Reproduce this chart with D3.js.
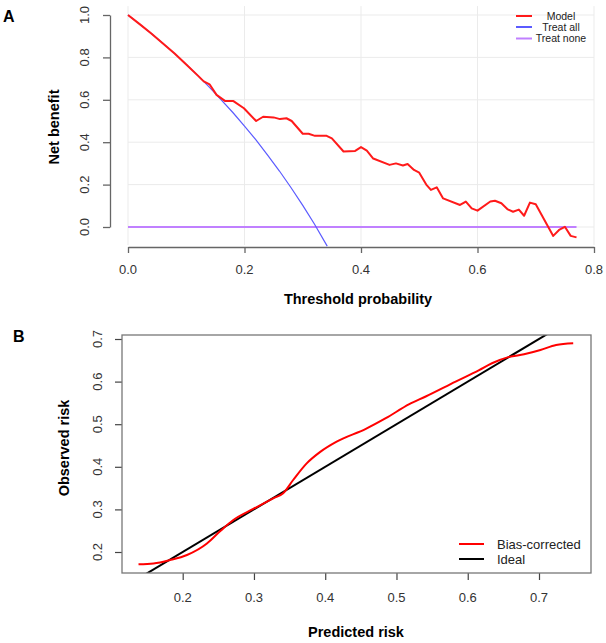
<!DOCTYPE html>
<html lang="en">
<head>
<meta charset="utf-8">
<title>DCA and calibration</title>
<script src="https://d3js.org/d3.v7.min.js"></script>
<style>
  body { margin: 0; background: #fff; }
  text { font-family: "Liberation Sans", Arial, sans-serif; }
</style>
</head>
<body>
<div id="chart"></div>
<script>
// ---- panel A data: decision curve ----
var thrModel = [0, 0.02, 0.04, 0.06, 0.08, 0.10, 0.12, 0.13, 0.14, 0.152, 0.167, 0.181, 0.199, 0.22, 0.232, 0.25,
  0.261, 0.272, 0.281, 0.30, 0.31, 0.321, 0.341, 0.35, 0.37, 0.39, 0.40, 0.41, 0.421, 0.449, 0.46, 0.472,
  0.48, 0.491, 0.50, 0.512, 0.52, 0.53, 0.541, 0.57, 0.58, 0.59, 0.60, 0.622, 0.63, 0.641, 0.652, 0.661,
  0.671, 0.68, 0.69, 0.70, 0.73, 0.74, 0.75, 0.76, 0.77];
var nbModel = [1.0, 0.957, 0.913, 0.866, 0.818, 0.767, 0.714, 0.687, 0.673, 0.623, 0.594, 0.594, 0.56, 0.50, 0.52, 0.517,
  0.509, 0.513, 0.50, 0.44, 0.44, 0.43, 0.43, 0.418, 0.356, 0.359, 0.377, 0.36, 0.323, 0.293, 0.30, 0.29,
  0.297, 0.269, 0.256, 0.20, 0.175, 0.187, 0.135, 0.104, 0.12, 0.088, 0.077, 0.12, 0.124, 0.112, 0.083, 0.072,
  0.082, 0.053, 0.115, 0.107, -0.042, -0.014, 0.001, -0.042, -0.049];
var thrAll = [0, 0.02, 0.04, 0.06, 0.08, 0.10, 0.12, 0.14, 0.16, 0.18, 0.20, 0.22, 0.24, 0.26, 0.28, 0.30, 0.32, 0.342];
var nbAll = [1.0, 0.957, 0.913, 0.866, 0.818, 0.767, 0.714, 0.659, 0.60, 0.54, 0.476, 0.41, 0.338, 0.264, 0.185, 0.102, 0.014, -0.09];
var thrNone = [0, 0.77];
var nbNone = [0, 0];
var xTicksA = [0, 0.2, 0.4, 0.6, 0.8];
var yTicksA = [0, 0.2, 0.4, 0.6, 0.8, 1.0];
var legendA = ["Model", "Treat all", "Treat none"];
var colorsA = ["#ff1a1a", "#5b5bff", "#c080ff"];

// ---- panel B data: calibration ----
var predicted = [0.138, 0.159, 0.182, 0.206, 0.234, 0.252, 0.271, 0.299, 0.327, 0.341, 0.355, 0.374, 0.393, 0.416,
  0.457, 0.485, 0.518, 0.541, 0.583, 0.616, 0.634, 0.658, 0.679, 0.702, 0.724, 0.748];
var observed = [0.171, 0.173, 0.181, 0.193, 0.220, 0.248, 0.275, 0.301, 0.326, 0.338, 0.369, 0.408, 0.435, 0.459,
  0.489, 0.514, 0.547, 0.565, 0.60, 0.627, 0.643, 0.658, 0.664, 0.674, 0.686, 0.690];
var ideal = [0.1, 0.8];
var xTicksB = [0.2, 0.3, 0.4, 0.5, 0.6, 0.7];
var yTicksB = [0.2, 0.3, 0.4, 0.5, 0.6, 0.7];
var legendB = ["Bias-corrected", "Ideal"];
var colorsB = ["#ff0000", "#000000"];

var w = 606, h = 643;
var svg = d3.select("#chart").append("svg")
  .attr("width", w).attr("height", h);
svg.append("rect").attr("width", w).attr("height", h).attr("fill", "#fff");

function fmt(d) { return d3.format(".1f")(d); }

// ================= panel A =================
var xA = d3.scaleLinear().domain([0, 0.8]).range([128, 594]);
var yA = d3.scaleLinear().domain([0, 1]).range([227, 15]);
var gA = svg.append("g");

// grid
gA.selectAll("line.vg").data(xTicksA).enter().append("line")
  .attr("x1", xA).attr("x2", xA).attr("y1", yA(1.042)).attr("y2", yA(-0.085))
  .attr("stroke", "#ebebeb").attr("stroke-width", 1);
gA.selectAll("line.hg").data(yTicksA).enter().append("line")
  .attr("x1", xA(0)).attr("x2", xA(0.8)).attr("y1", yA).attr("y2", yA)
  .attr("stroke", "#ebebeb").attr("stroke-width", 1);

// axes
var axXA = gA.append("g").attr("transform", "translate(0,247)")
  .call(d3.axisBottom(xA).tickValues(xTicksA).tickSize(6).tickSizeOuter(0).tickFormat(""));
var axYA = gA.append("g").attr("transform", "translate(110,0)")
  .call(d3.axisLeft(yA).tickValues(yTicksA).tickSize(7).tickSizeOuter(0).tickFormat(""));
[axXA, axYA].forEach(function (a) {
  a.selectAll("path,line").attr("stroke", "#666").attr("stroke-width", 1.3);
});
gA.selectAll("text.xl").data(xTicksA).enter().append("text")
  .attr("x", xA).attr("y", 274).attr("text-anchor", "middle")
  .attr("font-size", 13).attr("fill", "#333").text(fmt);
gA.selectAll("text.yl").data(yTicksA).enter().append("text")
  .attr("transform", function (d) { return "translate(89," + yA(d) + ") rotate(-90)"; })
  .attr("text-anchor", "middle").attr("font-size", 13).attr("fill", "#333").text(fmt);

// lines
var lineA = d3.line().x(function (d) { return xA(d[0]); }).y(function (d) { return yA(d[1]); });
gA.append("path").datum(d3.zip(thrNone, nbNone)).attr("d", lineA)
  .attr("fill", "none").attr("stroke", colorsA[2]).attr("stroke-width", 2);
gA.append("path").datum(d3.zip(thrAll, nbAll)).attr("d", lineA)
  .attr("fill", "none").attr("stroke", colorsA[1]).attr("stroke-width", 1.2);
gA.append("path").datum(d3.zip(thrModel, nbModel)).attr("d", lineA)
  .attr("fill", "none").attr("stroke", colorsA[0]).attr("stroke-width", 2)
  .attr("stroke-linejoin", "round");

// legend
var legYA = [16, 27, 38.5];
legendA.forEach(function (name, i) {
  gA.append("line").attr("x1", 516).attr("x2", 532).attr("y1", legYA[i]).attr("y2", legYA[i])
    .attr("stroke", colorsA[i]).attr("stroke-width", 2);
  gA.append("text").attr("x", 561).attr("y", legYA[i]).attr("dy", "0.35em")
    .attr("text-anchor", "middle").attr("font-size", 10.5).attr("fill", "#222").text(name);
});

// titles
gA.append("text").attr("x", 358).attr("y", 304).attr("text-anchor", "middle")
  .attr("font-size", 14.5).attr("font-weight", "bold").text("Threshold probability");
gA.append("text").attr("transform", "translate(59,127) rotate(-90)").attr("text-anchor", "middle")
  .attr("font-size", 14.5).attr("font-weight", "bold").text("Net benefit");
gA.append("text").attr("x", 3).attr("y", 22).attr("font-size", 16).attr("font-weight", "bold").text("A");

// ================= panel B =================
var xB = d3.scaleLinear().domain([0.2, 0.7]).range([182.7, 539]);
var yB = d3.scaleLinear().domain([0.2, 0.7]).range([552, 339]);
var gB = svg.append("g");
var bx0 = 122, bx1 = 591, by0 = 335, by1 = 573;

svg.append("clipPath").attr("id", "clipB").append("rect")
  .attr("x", bx0).attr("y", by0).attr("width", bx1 - bx0).attr("height", by1 - by0);

var axXB = gB.append("g").attr("transform", "translate(0," + by1 + ")")
  .call(d3.axisBottom(xB).tickValues(xTicksB).tickSize(7).tickFormat(""));
var axYB = gB.append("g").attr("transform", "translate(" + bx0 + ",0)")
  .call(d3.axisLeft(yB).tickValues(yTicksB).tickSize(7).tickFormat(""));
[axXB, axYB].forEach(function (a) {
  a.select(".domain").remove();
  a.selectAll("line").attr("stroke", "#444").attr("stroke-width", 1.2);
});
gB.selectAll("text.xl").data(xTicksB).enter().append("text")
  .attr("x", xB).attr("y", 601.5).attr("text-anchor", "middle")
  .attr("font-size", 13).attr("fill", "#333").text(fmt);
gB.selectAll("text.yl").data(yTicksB).enter().append("text")
  .attr("transform", function (d) { return "translate(101.5," + yB(d) + ") rotate(-90)"; })
  .attr("text-anchor", "middle").attr("font-size", 13).attr("fill", "#333").text(fmt);

var lineB = d3.line().x(function (d) { return xB(d[0]); }).y(function (d) { return yB(d[1]); });
var plotB = gB.append("g").attr("clip-path", "url(#clipB)");
plotB.append("path").datum(d3.zip(ideal, ideal)).attr("d", lineB)
  .attr("fill", "none").attr("stroke", colorsB[1]).attr("stroke-width", 2);
plotB.append("path").datum(d3.zip(predicted, observed)).attr("d", lineB.curve(d3.curveMonotoneX))
  .attr("fill", "none").attr("stroke", colorsB[0]).attr("stroke-width", 2);

gB.append("rect").attr("x", bx0).attr("y", by0).attr("width", bx1 - bx0).attr("height", by1 - by0)
  .attr("fill", "none").attr("stroke", "#777").attr("stroke-width", 1.3);

var legYB = [544, 559];
legendB.forEach(function (name, i) {
  gB.append("line").attr("x1", 459).attr("x2", 484).attr("y1", legYB[i]).attr("y2", legYB[i])
    .attr("stroke", colorsB[i]).attr("stroke-width", 2);
  gB.append("text").attr("x", 497).attr("y", legYB[i]).attr("dy", "0.35em")
    .attr("font-size", 13).attr("fill", "#222").text(name);
});

gB.append("text").attr("x", 356).attr("y", 637).attr("text-anchor", "middle")
  .attr("font-size", 14.5).attr("font-weight", "bold").text("Predicted risk");
gB.append("text").attr("transform", "translate(69,448) rotate(-90)").attr("text-anchor", "middle")
  .attr("font-size", 14.5).attr("font-weight", "bold").text("Observed risk");
gB.append("text").attr("x", 13).attr("y", 342).attr("font-size", 16).attr("font-weight", "bold").text("B");
</script>
</body>
</html>
